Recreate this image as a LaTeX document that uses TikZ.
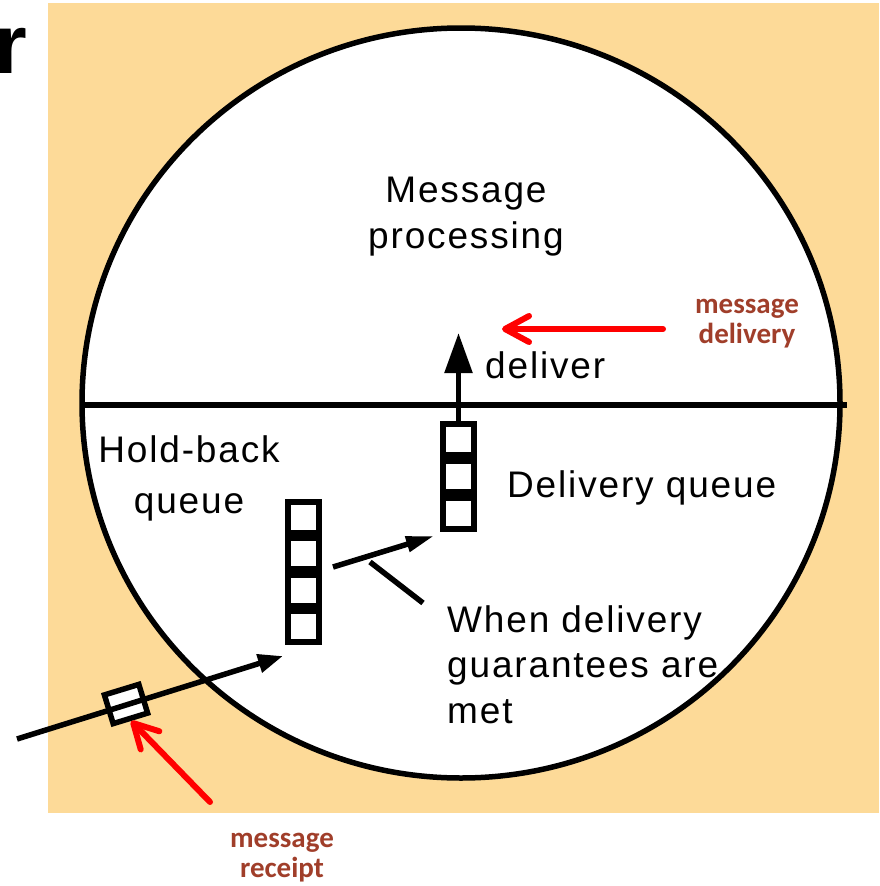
\documentclass[tikz,border=0pt]{standalone}
\usepackage{fontspec}
\setmainfont{Liberation Sans}
\newfontfamily\labelfont{Liberation Sans}[LetterSpace=5]
\newfontfamily\notefont{Carlito}
\usetikzlibrary{arrows.meta,calc}
\definecolor{panel}{RGB}{253,218,152}
\definecolor{notered}{RGB}{160,62,42}

\begin{document}
\begin{tikzpicture}[x=1pt,y=-1pt,
  lbl/.style={font=\labelfont\fontsize{37pt}{46pt}\selectfont, inner sep=0pt, text=black},
  note/.style={font=\notefont\bfseries\fontsize{29pt}{29.5pt}\selectfont, text=notered, inner sep=0pt, align=center},
  cell/.style={draw, line width=6pt, fill=white, minimum width=31pt, minimum height=31pt, inner sep=0pt},
  wire/.style={line width=5.5pt},
  redarrow/.style={draw=red, line width=6pt, line cap=round,
    -{Straight Barb[length=24pt,width=26pt,line cap=round,line join=round]}}
]
\useasboundingbox (0,0) rectangle (879,886);

% background panel and the process circle
\fill[panel] (48,3) rectangle (879,813);
\draw[line width=5.5pt, fill=white] (461,403) ellipse [x radius=379, y radius=375];
\draw[line width=5.5pt] (82,405) -- (847,405);

% cut-off heading letter
\node[font=\bfseries\fontsize{84pt}{84pt}\selectfont, inner sep=0pt, anchor=base west] (head) at (-5.5,73) {r};

% labels (multi-line nodes are anchored on their last baseline)
\node[lbl, anchor=base, align=center] (proc) at (466,248) {Message\\processing};
\node[lbl, anchor=base, align=center, font=\labelfont\fontsize{37pt}{51pt}\selectfont] (hold) at (189,513) {Hold-back\\queue};
\node[lbl, anchor=base west] (deliverlbl) at (485,378) {deliver};
\node[lbl, anchor=base west] (dqlbl) at (507,497) {Delivery queue};
\node[lbl, anchor=base west, align=left, font=\labelfont\fontsize{37pt}{45.5pt}\selectfont] (cond) at (447,723) {When delivery\\guarantees are\\met};

% hold-back queue
\foreach \i/\y in {1/517.25,2/553.75,3/590.25,4/626.75}
  \node[cell] (hq\i) at (303,\y) {};
% delivery queue
\foreach \i/\y in {1/439.5,2/476.5,3/513.5}
  \node[cell] (dq\i) at (458.5,\y) {};

% delivery to the application
\coordinate (dtip) at (458.5,333);
\draw[wire, -{Triangle[length=40pt,width=27pt]}] (dq1.north) -- (dtip);

% transfer from hold-back to delivery queue
\coordinate (hout) at (333,567);
\coordinate (din) at (434,536);
\draw[wire, -{Triangle[length=28pt,width=15pt]}] (hout) -- (din);
\coordinate (ptr) at (370,562);
\coordinate (ptrend) at (423,603);
\draw[wire] (ptr) -- (ptrend);

% incoming message
\node[draw, line width=5.5pt, fill=white, rotate=17, minimum width=36pt, minimum height=30pt, inner sep=0pt] (msg) at (126,704) {};
\coordinate (src) at (17,739);
\coordinate (hin) at (283,656);
\draw[wire, -{Triangle[length=25pt,width=18pt]}] (src) -- (hin);

% annotations
\node[note, anchor=base] (mdnote) at (747,343) {message\\delivery};
\node[note, anchor=base] (mrnote) at (282,877) {message\\receipt};
\coordinate (mdstart) at (663,329);
\coordinate (mdtip) at (502,329);
\draw[redarrow] (mdstart) -- (mdtip);
\coordinate (mrstart) at (210,802);
\draw[redarrow] (mrstart) -- (msg.south);
\end{tikzpicture}
\end{document}
